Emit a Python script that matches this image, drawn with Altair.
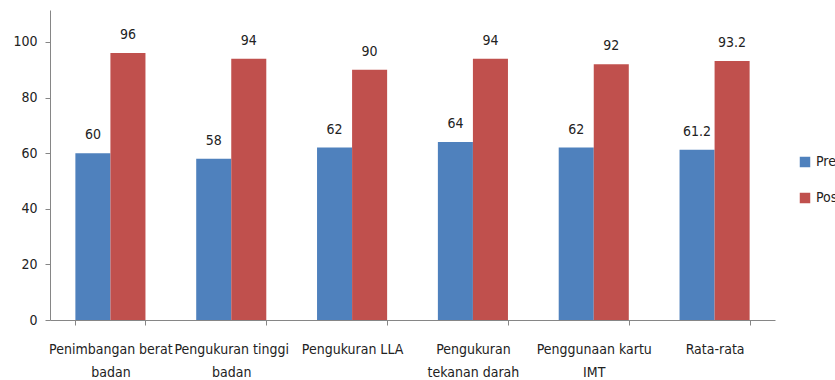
import altair as alt
import pandas as pd

categories = [
    "Penimbangan berat\nbadan",
    "Pengukuran tinggi\nbadan",
    "Pengukuran LLA",
    "Pengukuran\ntekanan darah",
    "Penggunaan kartu\nIMT",
    "Rata-rata",
]
series = ["Pre", "Post"]
pre_values = [60, 58, 62, 64, 62, 61.2]
post_values = [96, 94, 90, 94, 92, 93.2]
y_ticks = [0, 20, 40, 60, 80, 100]
colors = ["#4F81BD", "#C0504D"]

rows = []
for c, a, b in zip(categories, pre_values, post_values):
    rows.append({"cat": c, "series": "Pre", "value": a, "label": f"{a:g}"})
    rows.append({"cat": c, "series": "Post", "value": b, "label": f"{b:g}"})
df = pd.DataFrame(rows)

FONT = "Liberation Sans Narrow, DejaVu Sans Condensed, sans-serif"

x = alt.X(
    "cat:N",
    sort=categories,
    scale=alt.Scale(paddingInner=0.42, paddingOuter=0.21),
    axis=alt.Axis(
        title=None,
        labelAngle=0,
        labelExpr="split(datum.label, '\\n')",
        tickBand="extent",
        domainColor="#868686",
        tickColor="#868686",
        tickSize=5,
        labelFont=FONT,
        labelFontSize=14,
        labelColor="#222222",
        labelPadding=17,
        labelLineHeight=23,
        labelLimit=200,
    ),
)
xo = alt.XOffset("series:N", sort=series, scale=alt.Scale(paddingInner=0, paddingOuter=0))
y = alt.Y(
    "value:Q",
    scale=alt.Scale(domain=[0, 111.5], nice=False),
    axis=alt.Axis(
        title=None,
        values=y_ticks,
        grid=False,
        domainColor="#868686",
        tickColor="#868686",
        tickSize=5,
        labelFont=FONT,
        labelFontSize=14,
        labelColor="#222222",
        labelPadding=8,
    ),
)
color = alt.Color(
    "series:N",
    sort=series,
    scale=alt.Scale(domain=series, range=colors),
    legend=alt.Legend(
        title=None,
        orient="none",
        legendX=748,
        legendY=145,
        padding=0,
        symbolType="square",
        symbolSize=110,
        symbolStrokeWidth=0,
        labelFont=FONT,
        labelFontSize=14,
        labelColor="#222222",
        labelOffset=4,
        rowPadding=22,
    ),
)

base = alt.Chart(df)
bars = base.mark_bar().encode(x=x, xOffset=xo, y=y, color=color)
texts = base.mark_text(dy=-11, baseline="bottom", font=FONT, fontSize=14, color="#222222").encode(
    x=x, xOffset=xo, y=y, text="label:N"
)

chart = (
    alt.layer(bars, texts)
    .properties(
        width=725,
        height=310,
        padding={"left": 50, "top": 10, "right": 60, "bottom": 60},
        autosize=alt.AutoSizeParams(type="none"),
        background="white",
    )
    .configure_view(stroke=None)
)

chart.save("out.html", embed_options={"renderer": "svg", "actions": False})
